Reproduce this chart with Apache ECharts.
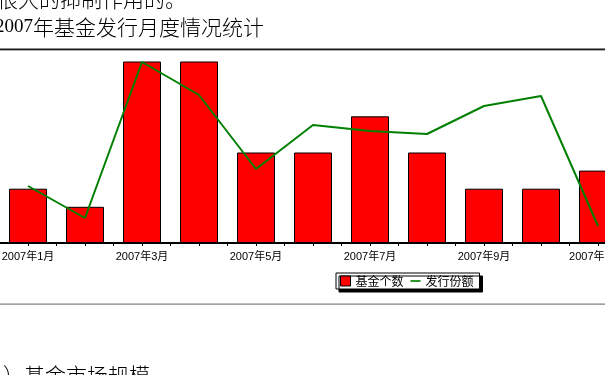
<!DOCTYPE html>
<html>
<head>
<meta charset="utf-8">
<script src="https://cdn.jsdelivr.net/npm/echarts@6/dist/echarts.min.js"></script>
<style>
html,body{margin:0;padding:0;background:#fff;}
#c{width:605px;height:375px;}
</style>
</head>
<body>
<div id="c"></div>
<script>
var categories = ['2007年1月','2007年2月','2007年3月','2007年4月','2007年5月','2007年6月','2007年7月','2007年8月','2007年9月','2007年10月','2007年11月'];
var fundCount = [3, 2, 11, 11, 5, 5, 7, 5, 3, 3, 4];
var issueShare = [570, 250, 1810, 1480, 740, 1180, 1120, 1090, 1370, 1470, 170];
var countMax = 10;
var shareMax = 1810;
var seriesNames = ['基金个数', '发行份额'];
var textAbove = '很大的抑制作用的。';
var chartTitleNum = '2007';
var chartTitleCJK = '年基金发行月度情况统计';
var textBelow = '）基金市场规模';

var CJK = '"Noto Sans CJK SC", sans-serif';
var chart = echarts.init(document.getElementById('c'), null, {renderer: 'canvas'});
chart.setOption({
  backgroundColor: '#ffffff',
  animation: false,
  graphic: [
    {type: 'text', left: -3, top: -11, style: {text: textAbove, font: '300 21px ' + CJK, fill: '#000'}},
    {type: 'text', left: -5, top: 17, style: {
      text: '{a|' + chartTitleNum + '}{b|' + chartTitleCJK + '}',
      rich: {
        a: {fontFamily: '"Liberation Serif", serif', fontSize: 19, fill: '#000'},
        b: {fontFamily: CJK, fontSize: 21, fontWeight: 300, fill: '#000'}
      }
    }},
    {type: 'rect', shape: {x: 0, y: 48, width: 605, height: 1}, style: {fill: '#8a8a8a'}},
    {type: 'rect', shape: {x: 0, y: 49, width: 605, height: 1}, style: {fill: '#1a1a1a'}},
    {type: 'rect', shape: {x: 0, y: 50, width: 605, height: 1}, style: {fill: '#b0b0b0'}},
    {type: 'rect', shape: {x: 0, y: 303.5, width: 605, height: 1.2}, style: {fill: '#808080'}},
    {type: 'text', left: 3, top: 365, style: {text: textBelow, font: '300 21px ' + CJK, fill: '#000'}}
  ],
  legend: {
    left: 336, top: 273,
    orient: 'horizontal',
    padding: [2, 6, 2, 4],
    itemGap: 7,
    itemWidth: 10, itemHeight: 10,
    backgroundColor: '#ffffff',
    borderColor: '#000', borderWidth: 1,
    shadowColor: '#000', shadowBlur: 0, shadowOffsetX: 3, shadowOffsetY: 3,
    textStyle: {fontFamily: CJK, fontSize: 12, color: '#000', lineHeight: 12, padding: [0,0,0,0]},
    data: [
      {name: seriesNames[0], icon: 'rect', itemStyle: {color: '#ff0000', borderColor: '#000', borderWidth: 1}},
      {name: seriesNames[1], icon: 'path://M0,0 L12,0 L12,2 L0,2 Z', itemStyle: {color: '#008000', borderWidth: 0}}
    ]
  },
  grid: {left: -0.5, top: 62, width: 627, height: 181, containLabel: false, outerBoundsMode: 'none'},
  xAxis: [
    {
      type: 'category', data: categories, position: 'bottom',
      axisLine: {show: true, lineStyle: {color: '#000', width: 2}},
      axisTick: {show: true, interval: 0, length: 3, lineStyle: {color: '#000'}},
      axisLabel: {interval: 1, margin: 8, fontSize: 11, color: '#000', fontFamily: '"Liberation Sans", ' + CJK, hideOverlap: false},
      splitLine: {show: false}
    },
    {
      type: 'category', data: categories, position: 'bottom',
      axisLine: {show: false},
      axisTick: {show: true, alignWithLabel: true, interval: 0, length: 3, lineStyle: {color: '#000'}},
      axisLabel: {show: false},
      splitLine: {show: false}
    }
  ],
  yAxis: [
    {type: 'value', min: 0, max: countMax, show: false, splitLine: {show: false}},
    {type: 'value', min: 0, max: shareMax, show: false, splitLine: {show: false}}
  ],
  series: [
    {
      name: seriesNames[0], type: 'bar', data: fundCount, xAxisIndex: 0, yAxisIndex: 0,
      barWidth: 38, clip: true,
      itemStyle: {color: '#ff0000', borderColor: '#000', borderWidth: 1}
    },
    {
      name: seriesNames[1], type: 'line', data: issueShare, xAxisIndex: 0, yAxisIndex: 1,
      symbol: 'none', smooth: false,
      lineStyle: {color: '#008000', width: 2},
      itemStyle: {color: '#008000'}
    }
  ]
});
</script>
</body>
</html>
